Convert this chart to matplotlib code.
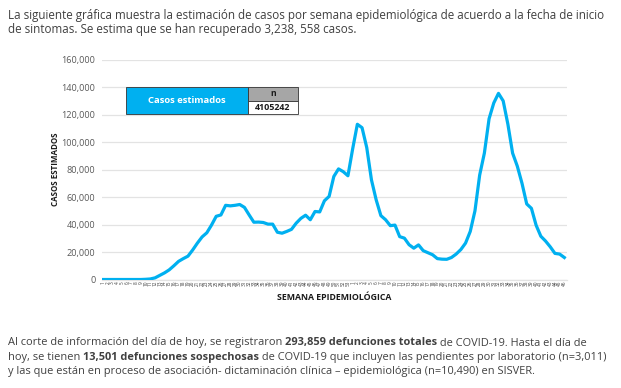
import matplotlib
matplotlib.use("Agg")
import matplotlib.pyplot as plt
from matplotlib.patches import Rectangle
from matplotlib.ticker import FuncFormatter

# ---- data ----
weeks_2020 = list(range(1, 54))
weeks_2021 = list(range(1, 47))
week_labels = [str(w) for w in weeks_2020 + weeks_2021]

casos = [
    0, 0, 0, 0, 0, 0, 0, 0, 0, 150,
    400, 1200, 3000, 4800, 7000, 10000, 13200, 15200, 17000, 21500,
    26500, 31000, 34000, 39600, 46000, 47000, 54000, 53600, 54000, 54600,
    52500, 47000, 41700, 41800, 41500, 40300, 40300, 34400, 33700, 35000,
    36500, 41000, 44500, 46800, 43500, 49500, 49200, 57300, 60500, 75000,
    80500, 78500, 75500, 95000, 113000, 110500, 96000, 72500, 58000, 46500,
    43500, 39200, 39600, 31200, 30100, 25300, 22800, 25200, 21000, 19500,
    18000, 15200, 14800, 14700, 16000, 18500, 21800, 26500, 35000, 50000,
    76000, 92000, 117000, 128500, 135500, 130000, 113000, 92000, 82500, 70000,
    55000, 51800, 39500, 31500, 28000, 23800, 19000, 18500, 16000,
]

y_ticks = [0, 20000, 40000, 60000, 80000, 100000, 120000, 140000, 160000]
table_header = "Casos estimados"
table_n_label = "n"
table_n_value = "4105242"

intro_lines = [
    "La siguiente gráfica muestra la estimación de casos por semana epidemiológica de acuerdo a la fecha de inicio",
    "de sintomas. Se estima que se han recuperado 3,238, 558 casos.",
]
footer_lines = [
    [("Al corte de información del día de hoy, se registraron ", "normal"),
     ("293,859 defunciones totales", "bold"),
     (" de COVID-19. Hasta el día de", "normal")],
    [("hoy, se tienen ", "normal"),
     ("13,501 defunciones sospechosas", "bold"),
     (" de COVID-19 que incluyen las pendientes por laboratorio (n=3,011)", "normal")],
    [("y las que están en proceso de asociación- dictaminación clínica – epidemiológica (n=10,490) en SISVER.", "normal")],
]

# ---- style ----
FONT = "Open Sans"
TXT = "#404040"
BLUE = "#00B0F0"
W, H = 621, 388

fig = plt.figure(figsize=(W / 100, H / 100), dpi=100)
fig.patch.set_facecolor("white")

ax = fig.add_axes([101.7 / W, 1 - 279.5 / H, 465 / W, 219.8 / H])
x = list(range(len(casos)))
ax.plot(x, casos, color=BLUE, lw=2.3, solid_joinstyle="round", zorder=3)
ax.set_xlim(-0.34, len(casos) - 1 + 0.5)
ax.set_ylim(0, 160000)
ax.set_yticks(y_ticks)
ax.yaxis.set_major_formatter(FuncFormatter(lambda v, p: "0" if v == 0 else f"{int(v):,}"))
ax.grid(axis="y", color="#E3E3E3", lw=0.9)
ax.set_axisbelow(True)
for s in ["top", "right", "left"]:
    ax.spines[s].set_visible(False)
ax.spines["bottom"].set_color("#E3E3E3")
ax.spines["bottom"].set_linewidth(0.9)
ax.tick_params(axis="y", length=0, labelsize=6.6, labelcolor="#595959", pad=4.5)
ax.set_xticks(x)
ax.set_xticklabels(week_labels, rotation=90, fontsize=3.4, color="#404040")
ax.tick_params(axis="x", length=0, pad=1)
for lab in ax.get_yticklabels() + ax.get_xticklabels():
    lab.set_fontfamily(FONT)

ax.set_ylabel("CASOS ESTIMADOS", fontsize=5.8, fontweight="bold", color="#1a1a1a",
              family=FONT)
ax.yaxis.set_label_coords((60 - 101.7) / 465, 0.5)
ax.set_xlabel("SEMANA EPIDEMIOLÓGICA", fontsize=6.3, fontweight="bold", color="#1a1a1a",
              family=FONT)
ax.xaxis.set_label_coords((334 - 101.7) / 465, -(293 - 279.5) / 219.8)
ax.xaxis.label.set_va("top")

# ---- table (figure pixel coords, top-origin) ----
def fx(px):
    return px / W

def fy(py):
    return 1 - py / H

x0, x1, x2 = 126, 247.7, 298.3
y0, ym, y1 = 87, 100.7, 114
fig.patches.append(Rectangle((fx(x0), fy(y1)), fx(x1) - fx(x0), fy(y0) - fy(y1),
                             transform=fig.transFigure, facecolor=BLUE,
                             edgecolor="#333333", lw=0.6, zorder=5))
fig.patches.append(Rectangle((fx(x1), fy(ym)), fx(x2) - fx(x1), fy(y0) - fy(ym),
                             transform=fig.transFigure, facecolor="#A6A6A6",
                             edgecolor="#333333", lw=0.6, zorder=5))
fig.patches.append(Rectangle((fx(x1), fy(y1)), fx(x2) - fx(x1), fy(ym) - fy(y1),
                             transform=fig.transFigure, facecolor="white",
                             edgecolor="#333333", lw=0.6, zorder=5))
fig.text(fx((x0 + x1) / 2), fy((y0 + y1) / 2), table_header, ha="center", va="center",
         color="white", fontsize=6.8, fontweight="bold", family=FONT, zorder=6)
fig.text(fx((x1 + x2) / 2), fy((y0 + ym) / 2), table_n_label, ha="center", va="center",
         color="#1a1a1a", fontsize=6.2, fontweight="bold", family=FONT, zorder=6)
fig.text(fx((x1 + x2) / 2), fy((ym + y1) / 2), table_n_value, ha="center", va="center",
         color="#1a1a1a", fontsize=6.4, fontweight="bold", family=FONT, zorder=6)

# ---- paragraphs ----
for i, line in enumerate(intro_lines):
    fig.text(fx(8), fy(15.5 + i * 14.5), line, ha="left", va="center", fontsize=8.35,
             color=TXT, family=FONT)

renderer = fig.canvas.get_renderer()
for i, segs in enumerate(footer_lines):
    xp = 8
    yp = 343 + i * 14.3
    for txt, wt in segs:
        t = fig.text(fx(xp), fy(yp), txt, ha="left", va="center", fontsize=7.9,
                     color=TXT, family=FONT, fontweight=wt)
        bb = t.get_window_extent(renderer=renderer)
        xp += bb.width

fig.savefig("out.png", dpi=100, facecolor="white")
